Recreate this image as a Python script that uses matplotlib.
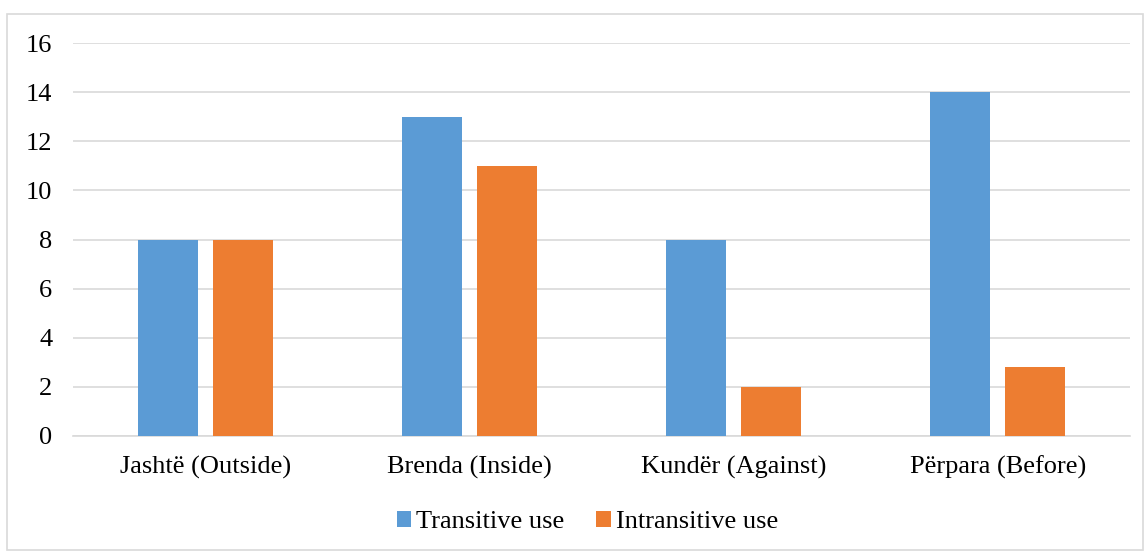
import matplotlib
matplotlib.use("Agg")
import matplotlib.pyplot as plt
from matplotlib.patches import Rectangle
import numpy as np

categories = ["Jashtë (Outside)", "Brenda (Inside)", "Kundër (Against)", "Përpara (Before)"]
transitive = [8, 13, 8, 14]
intransitive = [8, 11, 2, 2.8]
series_names = ["Transitive use", "Intransitive use"]
yticks = [0, 2, 4, 6, 8, 10, 12, 14, 16]

plt.rcParams['font.family'] = ['Liberation Serif', 'DejaVu Serif']

fig = plt.figure(figsize=(11.45, 5.51), dpi=100)
ax = fig.add_axes([73/1145, 1-436/551, (1130-73)/1145, (436-43)/551])

x = np.arange(len(categories))
w = 0.227
off = 0.142
ax.bar(x - off, transitive, w, color="#5b9bd5", label=series_names[0], zorder=3)
ax.bar(x + off, intransitive, w, color="#ed7d31", label=series_names[1], zorder=3)

ax.set_xlim(-0.5, len(categories) - 0.5)
ax.set_ylim(0, 16)
ax.set_yticks(yticks)
ax.set_xticks(x)
ax.set_xticklabels(categories, fontsize=19)
ax.tick_params(axis='y', length=0, pad=15, labelsize=19)
ax.tick_params(axis='x', length=0, pad=14)
ax.grid(axis='y', color="#d9d9d9", linewidth=1.2, zorder=0)
for s in ["top", "right", "left"]:
    ax.spines[s].set_visible(False)
ax.spines["bottom"].set_color("#d9d9d9")
ax.spines["bottom"].set_linewidth(1.2)

fig.legend(loc="center", bbox_to_anchor=(587.5/1145, 1-522/551), ncol=2, frameon=False,
           fontsize=19, handlelength=0.55, handleheight=0.55, handletextpad=0.2,
           columnspacing=1.2)

fig.patches.append(Rectangle((7/1145, 0.002), (1143-7)/1145, 1-14/551-0.002,
                             transform=fig.transFigure, fill=False,
                             edgecolor="#d9d9d9", linewidth=1.2))

fig.savefig("out.png", dpi=100)
